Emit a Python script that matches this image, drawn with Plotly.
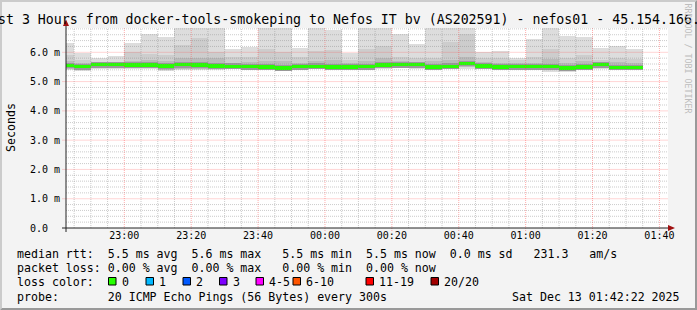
import pandas as pd
import plotly.graph_objects as go

# ---------------- canvas geometry (rrdtool style) ----------------
W, H = 697, 310
ML, MR, MT, MB = 66, 29, 28, 82
PW = W - ML - MR
PH = H - MT - MB


def px(x):
    return (x - ML) / PW


def py(y):
    return (MT + PH - y) / PH


# ---------------- data ----------------
bin_end = pd.date_range("2025-12-12 22:45:00", periods=35, freq="5min")
x_start = pd.Timestamp("2025-12-12 22:42:34")
x_end = x_start + pd.Timedelta(hours=3)
Y_MAX = 6.83  # ms

# median rtt per 5-min bin (ms)
median_ms = [5.55, 5.51, 5.58, 5.58, 5.57, 5.57, 5.54, 5.58, 5.57, 5.54, 5.52, 5.51,
             5.50, 5.46, 5.51, 5.52, 5.49, 5.49, 5.51, 5.56, 5.58, 5.58, 5.49, 5.52,
             5.62, 5.54, 5.50, 5.51, 5.51, 5.51, 5.47, 5.49, 5.58, 5.48, 5.48]
# smoke: highest ping (ms)
max_ms = [6.33, 5.96, 5.80, 5.87, 6.33, 6.63, 6.52, 7.00, 7.00, 7.00, 6.11, 6.19,
          7.00, 7.00, 6.15, 7.00, 6.76, 5.98, 7.00, 7.00, 6.63, 6.29, 7.00, 7.00,
          7.00, 6.01, 6.05, 5.82, 6.45, 7.00, 6.56, 6.53, 6.16, 6.22, 6.11]
# smoke: upper edge of second band (ms)
upper2_ms = [5.90, 5.74, 5.68, 5.68, 6.00, 5.93, 5.90, 6.25, 6.48, 6.00, 5.85, 5.85,
             6.10, 6.00, 5.85, 6.05, 6.08, 5.75, 6.10, 6.22, 5.85, 5.80, 5.80, 6.36,
             6.62, 5.79, 5.80, 5.75, 5.85, 6.10, 5.82, 5.90, 5.75, 5.80, 5.78]
# smoke: upper edge of third band (ms)
upper3_ms = [5.70, 5.62, 5.64, 5.66, 5.70, 5.75, 5.72, 5.79, 5.80, 5.80, 5.65, 5.66,
             5.72, 5.70, 5.65, 5.70, 5.75, 5.62, 5.70, 5.80, 5.70, 5.68, 5.70, 5.75,
             5.85, 5.66, 5.65, 5.62, 5.65, 5.78, 5.65, 5.70, 5.68, 5.66, 5.64]
# smoke: lowest ping (ms)
low1_ms = [5.40, 5.36, 5.43, 5.43, 5.43, 5.43, 5.37, 5.40, 5.40, 5.40, 5.43, 5.42,
           5.43, 5.36, 5.40, 5.43, 5.43, 5.43, 5.43, 5.43, 5.45, 5.43, 5.43, 5.43,
           5.43, 5.43, 5.40, 5.42, 5.43, 5.34, 5.34, 5.40, 5.43, 5.42, 5.42]
# smoke: lower edge of inner bands (ms)
low2_ms = [5.44, 5.41, 5.46, 5.46, 5.46, 5.46, 5.41, 5.44, 5.44, 5.43, 5.45, 5.44,
           5.45, 5.39, 5.43, 5.45, 5.44, 5.44, 5.45, 5.46, 5.48, 5.47, 5.44, 5.45,
           5.50, 5.46, 5.43, 5.44, 5.45, 5.39, 5.38, 5.42, 5.47, 5.43, 5.43]

y_tick_vals = [0, 1, 2, 3, 4, 5, 6]
y_tick_text = ["0.0\u00a0\u00a0", "1.0\u00a0m", "2.0\u00a0m", "3.0\u00a0m",
               "4.0\u00a0m", "5.0\u00a0m", "6.0\u00a0m"]

title_text = "Last 3 Hours from docker-tools-smokeping to Nefos IT bv (AS202591) - nefos01 - 45.154.166."
legend_line1 = "median rtt:  5.5 ms avg  5.6 ms max   5.5 ms min  5.5 ms now  0.0 ms sd   231.3   am/s"
legend_line2 = "packet loss: 0.00 % avg  0.00 % max   0.00 % min  0.00 % now"
legend_line3 = "loss color:"
legend_line4 = "probe:       20 ICMP Echo Pings (56 Bytes) every 300s"
stamp_text = "Sat Dec 13 01:42:22 2025"
loss_labels = ["0", "1", "2", "3", "4-5", "6-10", "11-19", "20/20"]
loss_colors = ["#26ff00", "#00b8ff", "#0059ff", "#7e00ff", "#ff00ff", "#ff5500", "#ff0000", "#a10000"]

# ---------------- styles ----------------
FONT = "DejaVu Sans Mono"
LOSS_BOX_X = [108.5, 146, 183, 219.5, 256, 293, 366, 431]
MED_HALF = 0.06
DARK_HALF = 0.1
BIN_MS = 300000

centers = bin_end - pd.Timedelta(minutes=2.5)

fig = go.Figure()


def band(lo, hi, color):
    fig.add_trace(go.Bar(
        x=centers, base=lo, y=[h - l for l, h in zip(lo, hi)], width=BIN_MS,
        marker=dict(color=color, line=dict(width=0)), hoverinfo="skip", showlegend=False))


band(low1_ms, max_ms, "#dddddd")
band(low2_ms, upper2_ms, "#cdcdcd")
band(low2_ms, upper3_ms, "#bababa")
band([m - DARK_HALF for m in median_ms], [m + DARK_HALF for m in median_ms], "#9a9a9a")
band([m - MED_HALF for m in median_ms], [m + MED_HALF for m in median_ms], loss_colors[0])

shapes = []
MINOR = "rgba(140,140,140,0.45)"
MAJOR = "rgba(255,70,70,0.45)"
DASH = "1px,1px"

# vertical grid
t = pd.Timestamp("2025-12-12 22:45:00")
while t <= x_end:
    major = (t.minute % 20 == 0)
    shapes.append(dict(type="line", xref="x", yref="paper", x0=t, x1=t,
                       y0=py(231) if major else 0, y1=1, layer="above",
                       line=dict(color=MAJOR if major else MINOR, width=1, dash=DASH)))
    t += pd.Timedelta(minutes=5)
# horizontal grid
for k in range(1, 35):
    v = k * 0.2
    if v > Y_MAX:
        break
    major = (k % 5 == 0)
    shapes.append(dict(type="line", xref="paper", yref="y", x0=px(62.5) if major else 0, x1=1,
                       y0=v, y1=v, layer="above",
                       line=dict(color=MAJOR if major else MINOR, width=1, dash=DASH)))

# axes with arrows
AX = "#222222"
ARROW = "#a01010"
shapes.append(dict(type="line", xref="paper", yref="paper", x0=px(62), x1=px(670),
                   y0=0, y1=0, layer="above", line=dict(color=AX, width=1)))
shapes.append(dict(type="line", xref="paper", yref="paper", x0=0, x1=0,
                   y0=py(232), y1=py(24), layer="above", line=dict(color=AX, width=1)))
shapes.append(dict(type="path", xref="paper", yref="paper", layer="above",
                   path=f"M {px(668)} {py(225)} L {px(675)} {py(228)} L {px(668)} {py(231)} Z",
                   fillcolor=ARROW, line=dict(width=0)))
shapes.append(dict(type="path", xref="paper", yref="paper", layer="above",
                   path=f"M {px(63)} {py(26)} L {px(66)} {py(19.5)} L {px(69)} {py(26)} Z",
                   fillcolor=ARROW, line=dict(width=0)))

# outer shaded frame
shapes.append(dict(type="path", xref="paper", yref="paper", layer="below",
                   path=f"M {px(0)} {py(0)} L {px(W)} {py(0)} L {px(W-2)} {py(2)} L {px(2)} {py(2)} "
                        f"L {px(2)} {py(H-2)} L {px(0)} {py(H)} Z",
                   fillcolor="#cbcbcb", line=dict(width=0)))
shapes.append(dict(type="path", xref="paper", yref="paper", layer="below",
                   path=f"M {px(W)} {py(0)} L {px(W)} {py(H)} L {px(0)} {py(H)} L {px(2)} {py(H-2)} "
                        f"L {px(W-2)} {py(H-2)} L {px(W-2)} {py(2)} Z",
                   fillcolor="#999999", line=dict(width=0)))

annotations = []


def text(s, x, y, size, xanchor="left", color="#000000", angle=0):
    annotations.append(dict(text=s.replace(" ", "\u00a0"), x=px(x), y=py(y), xref="paper", yref="paper",
                            xanchor=xanchor, yanchor="middle", showarrow=False, textangle=angle,
                            font=dict(family=FONT, size=size, color=color), borderpad=0))


text(title_text, -18.8, 19.3, 13.25)
text("Seconds", 10.5, 127.5, 11.6, xanchor="center", angle=-90)
text("RRDTOOL / TOBI OETIKER", 687.5, 58, 8.3, xanchor="center", color="#bdbdbd", angle=90)
text(legend_line1, 16, 253.5, 11.6)
text(legend_line2, 16, 268, 11.6)
text(legend_line3, 16, 281.5, 11.6)
text(legend_line4, 16, 296.5, 11.6)
text(stamp_text, 681, 296.5, 11.6, xanchor="right")

for bx, lab, col in zip(LOSS_BOX_X, loss_labels, loss_colors):
    shapes.append(dict(type="rect", xref="paper", yref="paper", layer="above",
                       x0=px(bx), x1=px(bx + 7.5), y0=py(277.5), y1=py(285),
                       fillcolor=col, line=dict(color="#000000", width=1)))
    text(lab, bx + 12.3, 281.5, 11.6)

major_ticks = pd.date_range("2025-12-12 23:00:00", "2025-12-13 01:40:00", freq="20min")

fig.update_layout(
    width=W, height=H,
    margin=dict(l=ML, r=MR, t=MT, b=MB, pad=0),
    paper_bgcolor="#f3f3f3", plot_bgcolor="#ffffff",
    barmode="overlay", bargap=0,
    showlegend=False,
    shapes=shapes, annotations=annotations,
    xaxis=dict(type="date", range=[x_start, x_end], showgrid=False, zeroline=False, showline=False,
               tickmode="array", tickvals=list(major_ticks),
               ticktext=[t.strftime("%H:%M") for t in major_ticks],
               ticks="", ticklen=0,
               tickfont=dict(family=FONT, size=10, color="#000000"), fixedrange=True),
    yaxis=dict(range=[0, Y_MAX], showgrid=False, zeroline=False, showline=False,
               tickmode="array", tickvals=y_tick_vals, ticktext=y_tick_text,
               ticks="outside", ticklen=3, tickcolor="rgba(0,0,0,0)",
               tickfont=dict(family=FONT, size=10, color="#000000"), fixedrange=True),
)

fig.write_html("out.html")
